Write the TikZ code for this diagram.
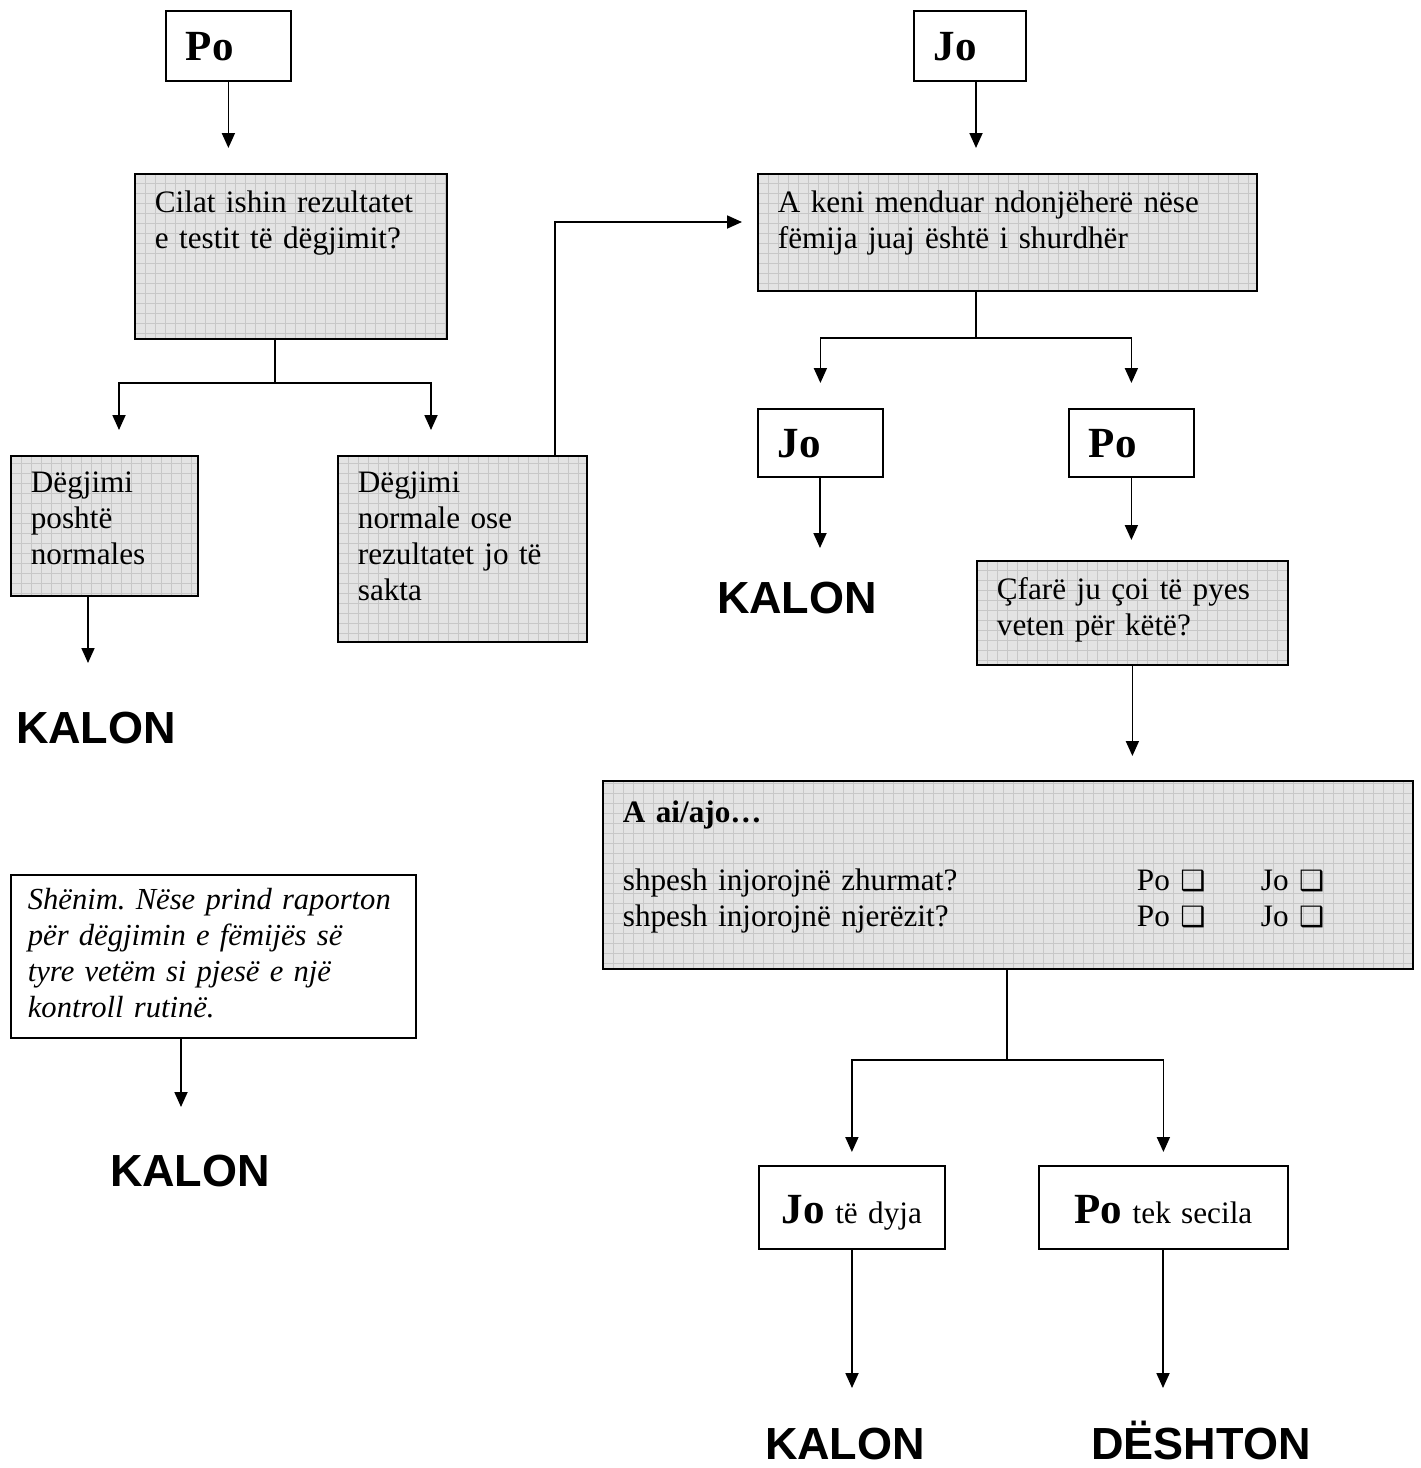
\documentclass[tikz,border=0pt]{standalone}
\usepackage{fontspec}
\setmainfont{Liberation Serif}
\newfontfamily\arialfont{Liberation Sans}
\newfontfamily\dejavufont{DejaVu Sans}
\usetikzlibrary{arrows.meta}
\frenchspacing

\newcommand{\bodysize}{\fontsize{15.6pt}{18pt}\selectfont}
\newcommand{\bigsize}{\fontsize{21.5pt}{24pt}\selectfont}
\newcommand{\chkbox}{{\dejavufont\fontsize{14pt}{14pt}\selectfont ❑}}

\tikzset{
    box/.style={draw, line width=0.9pt, inner xsep=10pt, inner ysep=0pt,
        anchor=north west, align=left, font=\bodysize},
    gridbox/.style={box, fill=black!11, path picture={
        \draw[black!22, line width=0.4pt]
            (path picture bounding box.south west) grid[step=5pt]
            (path picture bounding box.north east);}},
    plainbox/.style={box, fill=white},
    verdict/.style={anchor=base,
        font={\arialfont\bfseries\fontsize{22.5pt}{26pt}\selectfont}},
    link/.style={line width=0.9pt},
    arr/.style={link, -{Triangle[length=7.5pt, width=6.5pt]}},
}

\begin{document}
\begin{tikzpicture}[x=0.5pt, y=-0.5pt]

        \useasboundingbox (0,0) rectangle (1420,1468);

        %% ── Branche gauche : Po ─────────────────────────────────────────
        \node[plainbox, text width=42.5pt, text height=25pt, text depth=10pt]
            (pTop) at (165,10) {\bigsize\textbf{Po}};
        \node[gridbox, text width=136pt, text height=19.5pt, text depth=63pt]
            (q1) at (134,173) {Cilat ishin rezultatet\\e testit të dëgjimit?};
        \node[gridbox, text width=73.5pt, text height=18.5pt, text depth=51.5pt]
            (r1) at (10,455) {Dëgjimi\\poshtë\\normales};
        \node[gridbox, text width=104.5pt, text height=18.5pt, text depth=74.5pt]
            (r2) at (337,455) {Dëgjimi\\normale ose\\rezultatet jo të\\sakta};
        \node[verdict] (k1) at (96,743) {KALON};

        %% ── Shënim ──────────────────────────────────────────────────────
        \node[plainbox, inner xsep=8.5pt, text width=185.5pt,
              text height=17.5pt, text depth=64pt,
              font={\fontsize{15.3pt}{18pt}\selectfont\itshape}]
            (note) at (10,874)
            {\mbox{Shënim. Nëse prind raporton}\\për dëgjimin e fëmijës së\\
             tyre vetëm si pjesë e një\\kontroll rutinë.};
        \node[verdict] (k3) at (190,1186) {KALON};

        %% ── Branche droite : Jo ─────────────────────────────────────────
        \node[plainbox, text width=36pt, text height=25pt, text depth=10pt]
            (jTop) at (913,10) {\bigsize\textbf{Jo}};
        \node[gridbox, text width=229.5pt, text height=19.5pt, text depth=39pt]
            (q2) at (757,173)
            {A keni menduar ndonjëherë nëse\\fëmija juaj është i shurdhër};
        \node[plainbox, text width=42.5pt, text height=24.5pt, text depth=9.5pt]
            (jMid) at (757,408) {\bigsize\textbf{Jo}};
        \node[plainbox, text width=42.5pt, text height=24.5pt, text depth=9.5pt]
            (pMid) at (1068,408) {\bigsize\textbf{Po}};
        \node[verdict] (k2) at (797,613) {KALON};
        \node[gridbox, text width=135.5pt, text height=19.5pt, text depth=32.5pt]
            (q3) at (976,560) {Çfarë ju çoi të pyes\\veten për këtë?};

        %% ── Pyetjet ─────────────────────────────────────────────────────
        \node[gridbox, text width=385pt, text height=21pt, text depth=73pt]
            (q4) at (602,780)
            {\textbf{A ai/ajo…}\\[16pt]
             \makebox[257pt][l]{shpesh injorojnë zhurmat?}%
             \makebox[62pt][l]{Po \chkbox}Jo \chkbox\\
             \makebox[257pt][l]{shpesh injorojnë njerëzit?}%
             \makebox[62pt][l]{Po \chkbox}Jo \chkbox};
        \node[plainbox, align=center, text width=73pt, text height=29pt,
              text depth=12.5pt]
            (jBot) at (758,1165) {{\bigsize\textbf{Jo}} të dyja};
        \node[plainbox, align=center, text width=104.5pt, text height=29pt,
              text depth=12.5pt]
            (pBot) at (1038,1165) {{\bigsize\textbf{Po}} tek secila};
        \node[verdict] (k4) at (845,1459) {KALON};
        \node[verdict] (fail) at (1201,1459) {DËSHTON};

        %% ── Points de branchement ───────────────────────────────────────
        \coordinate (b1) at (275,383);
        \coordinate (t1) at (119,430);
        \coordinate (t2) at (431,430);
        \coordinate (t3) at (88,663);
        \coordinate (u1) at (555,222);
        \coordinate (t4) at (742,222);
        \coordinate (b2) at (976,338);
        \coordinate (t7) at (820,548);
        \coordinate (b3) at (1007,1060);
        \coordinate (t10) at (852,1388);
        \coordinate (t11) at (1163,1388);
        \coordinate (t12) at (181,1107);

        %% ── Flèches ─────────────────────────────────────────────────────
        \draw[arr, shorten >=12.5pt] (pTop.south) -- (pTop.south |- q1.north);
        \draw[link] (q1.south -| b1) -- (b1);
        \draw[arr] (b1) -| (t1);
        \draw[arr] (b1) -| (t2);
        \draw[arr] (r1.south -| t3) -- (t3);
        \draw[arr] (r2.north -| u1) -- (u1) -- (t4);
        \draw[arr] (note.south -| t12) -- (t12);

        \draw[arr, shorten >=12.5pt] (jTop.south -| b2) -- (q2.north -| b2);
        \draw[link] (q2.south -| b2) -- (b2);
        \draw[arr, shorten >=12.5pt] (b2) -| (jMid.north);
        \draw[arr, shorten >=12.5pt] (b2) -| (pMid.north);
        \draw[arr] (jMid.south -| t7) -- (t7);
        \draw[arr, shorten >=10pt] (pMid.south) -- (pMid.south |- q3.north);
        \draw[arr, shorten >=12pt] (q3.south) -- (q3.south |- q4.north);
        \draw[link] (q4.south -| b3) -- (b3);
        \draw[arr, shorten >=6.5pt] (b3) -| (jBot.north);
        \draw[arr, shorten >=6.5pt] (b3) -| (pBot.north);
        \draw[arr] (jBot.south -| t10) -- (t10);
        \draw[arr] (pBot.south -| t11) -- (t11);

    \end{tikzpicture}
\end{document}
